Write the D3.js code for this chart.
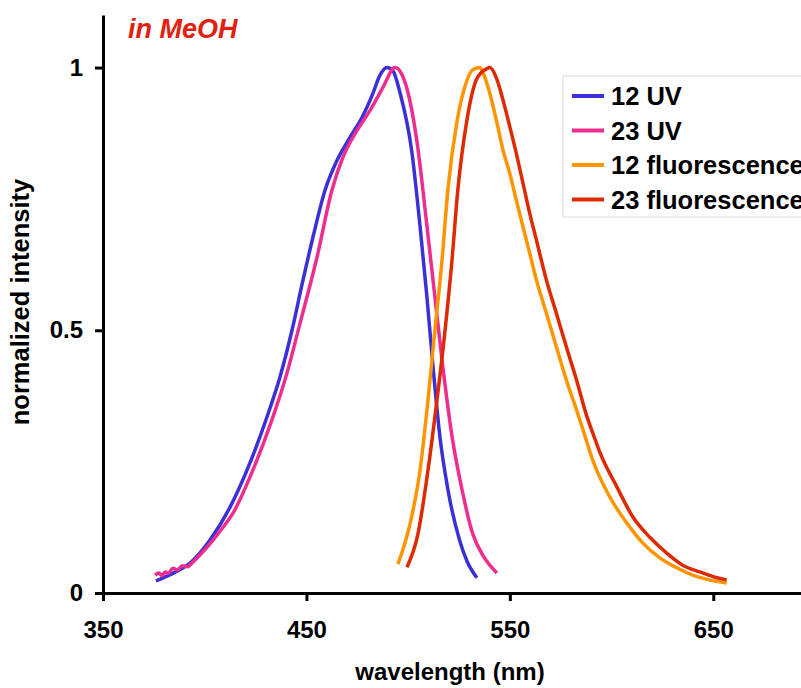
<!DOCTYPE html>
<html>
<head>
<meta charset="utf-8">
<script src="https://cdn.jsdelivr.net/npm/d3@7"></script>
<style>
  body { margin: 0; background: #fff; }
  svg { display: block; font-family: 'Liberation Sans', Arial, sans-serif; font-weight: bold; }
</style>
</head>
<body>
<div id="chart"></div>
<script>
// [wavelength nm, normalized intensity]
const uv12 = [
  [376, 0.023], [383, 0.035], [392.8, 0.057], [402.6, 0.101], [412.4, 0.163],
  [422.2, 0.247], [430.6, 0.335], [437, 0.411], [442.9, 0.5], [448, 0.59],
  [453.2, 0.677], [459.1, 0.766], [465, 0.823], [471.4, 0.867], [477.3, 0.905],
  [482.7, 0.951], [486.1, 0.985], [489.6, 1.0], [492.5, 0.994], [496, 0.952],
  [501.8, 0.84], [505.8, 0.7], [509.2, 0.565], [512.2, 0.432], [515.6, 0.298],
  [519.5, 0.198], [525.4, 0.099], [529, 0.06], [533.8, 0.029]
]

const uv23 = [
  [375.6, 0.034], [377.5, 0.038], [379, 0.033], [380.5, 0.04], [382, 0.037],
  [384.4, 0.047], [386.5, 0.044], [389, 0.052], [391.5, 0.05], [394.2, 0.059],
  [399, 0.078], [404, 0.1], [409, 0.125], [413.9, 0.152], [423.7, 0.234],
  [433, 0.329], [440.4, 0.418], [446.5, 0.508], [455.2, 0.639], [462.5, 0.766],
  [467.9, 0.829], [474.8, 0.88], [481.2, 0.918], [487.6, 0.962], [493.5, 1.0],
  [496.5, 0.99], [499.4, 0.96], [504.3, 0.86], [509.2, 0.7], [513.1, 0.565],
  [517, 0.432], [521.5, 0.3], [526.4, 0.198], [531.8, 0.112], [537, 0.07],
  [543.6, 0.038]
]

const fl12 = [
  [495, 0.055], [500.9, 0.131], [505.8, 0.232], [509.7, 0.365], [513.1, 0.498],
  [516.6, 0.631], [519.5, 0.766], [524, 0.897], [527.9, 0.964], [531.8, 0.996],
  [535.3, 1.0], [536.8, 0.99], [540.2, 0.95], [543.4, 0.899], [546.7, 0.842],
  [550, 0.798], [553.2, 0.747], [556.5, 0.696], [559.8, 0.646], [563.1, 0.595],
  [568, 0.532], [572.9, 0.468], [577.8, 0.405], [582.8, 0.348], [586, 0.31],
  [590.8, 0.252], [599.1, 0.183], [607.5, 0.133], [615.4, 0.095], [623.7, 0.067],
  [632.1, 0.048], [639.9, 0.034], [648, 0.025], [656.6, 0.019]
]

const fl23 = [
  [499.4, 0.049], [504.8, 0.112], [509.7, 0.232], [514.1, 0.365], [518.1, 0.498],
  [521.5, 0.631], [524.4, 0.766], [528.9, 0.9], [533.8, 0.979], [538.7, 0.998],
  [540.2, 1.0], [543.4, 0.98], [546.7, 0.937], [550, 0.887], [553.2, 0.836],
  [556.5, 0.779], [559.8, 0.722], [563.1, 0.671], [568, 0.595], [572.9, 0.532],
  [577.8, 0.468], [582.8, 0.405], [587.7, 0.338], [591, 0.302], [594.2, 0.268],
  [602.6, 0.202], [610.4, 0.145], [618.8, 0.106], [627.1, 0.076], [635, 0.053],
  [643.4, 0.04], [650, 0.031], [656.6, 0.025]
]

const seriesNames = ['12 UV', '23 UV', '12 fluorescence', '23 fluorescence']
const seriesColors = ['#3a30d8', '#ee2e8e', '#ff9500', '#dd2a00']
const xTicks = [350, 450, 550, 650]
const yTicks = [0, 0.5, 1]

const margin = {
  top: 15,
  right: 0,
  bottom: 95,
  left: 103
}

const width = 801 - margin.left - margin.right
const height = 688 - margin.top - margin.bottom

const svg = d3
  .select('#chart')
  .append('svg')
  .attr('width', 801)
  .attr('height', 688)

const g = svg
  .append('g')
  .attr('transform', 'translate(' + margin.left + ',' + margin.top + ')')

// axis runs on past the right edge of the picture, like the cropped original
const xPositionScale = d3.scaleLinear().domain([350, 700]).range([0, 712])

const yPositionScale = d3
  .scaleLinear()
  .domain([0, 1.1])
  .range([height, 0])

const line = d3
  .line()
  .x(d => xPositionScale(d[0]))
  .y(d => yPositionScale(d[1]))
  .curve(d3.curveMonotoneX)

const allSeries = [uv12, uv23, fl12, fl23]

g.selectAll('.curve')
  .data(allSeries)
  .enter()
  .append('path')
  .attr('class', 'curve')
  .attr('d', d => line(d))
  .attr('fill', 'none')
  .attr('stroke', (d, i) => seriesColors[i])
  .attr('stroke-width', 3.5)
  .attr('stroke-linejoin', 'round')

// axes
const xAxis = d3
  .axisBottom(xPositionScale)
  .tickValues(xTicks)
  .tickSize(8)
  .tickPadding(20)
  .tickSizeOuter(0)

const yAxis = d3
  .axisLeft(yPositionScale)
  .tickValues(yTicks)
  .tickFormat(d => d)
  .tickSize(8)
  .tickPadding(12)
  .tickSizeOuter(0)

g.append('g')
  .attr('class', 'axis x-axis')
  .attr('transform', 'translate(0,' + height + ')')
  .call(xAxis)

g.append('g')
  .attr('class', 'axis y-axis')
  .call(yAxis)

svg.selectAll('.axis path, .axis line')
  .attr('stroke', '#000')
  .attr('stroke-width', 3)
svg.selectAll('.axis text')
  .attr('font-size', 24)
  .attr('font-weight', 'bold')
  .attr('font-family', "'Liberation Sans', Arial, sans-serif")
  .attr('fill', '#000')

// axis titles
svg
  .append('text')
  .attr('x', 450)
  .attr('y', 680)
  .attr('text-anchor', 'middle')
  .attr('font-size', 24)
  .text('wavelength (nm)')

svg
  .append('text')
  .attr('transform', 'translate(29,302) rotate(-90)')
  .attr('text-anchor', 'middle')
  .attr('font-size', 25.5)
  .text('normalized intensity')

svg
  .append('text')
  .attr('x', 128)
  .attr('y', 38)
  .attr('font-size', 27)
  .attr('font-style', 'italic')
  .attr('fill', '#e2200f')
  .text('in MeOH')

// legend
const legend = svg.append('g').attr('transform', 'translate(563,76)')

legend
  .append('rect')
  .attr('width', 260)
  .attr('height', 141)
  .attr('fill', '#fff')
  .attr('stroke', '#d8d8d8')
  .attr('stroke-width', 1)

const rows = legend
  .selectAll('.row')
  .data(seriesNames)
  .enter()
  .append('g')
  .attr('class', 'row')
  .attr('transform', (d, i) => 'translate(0,' + (20 + i * 34.5) + ')')

rows
  .append('line')
  .attr('x1', 9)
  .attr('x2', 41)
  .attr('stroke', (d, i) => seriesColors[i])
  .attr('stroke-width', 4)

rows
  .append('text')
  .attr('x', 48)
  .attr('dy', '0.36em')
  .attr('font-size', 25.5)
  .text(d => d)
</script>
</body>
</html>
